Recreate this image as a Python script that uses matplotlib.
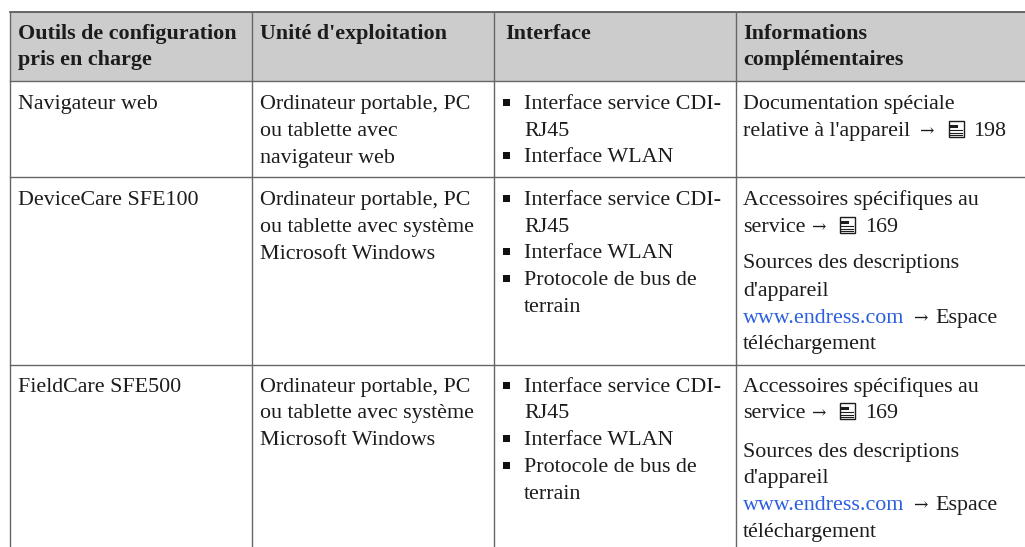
import matplotlib
matplotlib.use('Agg')
import matplotlib.pyplot as plt
from matplotlib.patches import Rectangle

plt.rcParams['font.family'] = ['Liberation Serif', 'DejaVu Serif']
FS = 15.8
FS_B = 15.8
INK = '#1c1c1c'

# column lines and row lines, in image pixels
col_x = [9.5, 251.5, 493.5, 735.5]
header_top = 11.5
row_y = [81, 177, 365]
text_x = [18, 260, 524, 743]
bullet_x = 506.5

headers = [['Outils de configuration', 'pris en charge'],
           ["Unité d'exploitation"],
           ['Interface'],
           ['Informations', 'complémentaires']]
header_x = [18, 260, 505, 743]
header_base = [39, 65]

col1 = [('Navigateur web', 109), ('DeviceCare SFE100', 205), ('FieldCare SFE500', 392)]
col2 = [('Ordinateur portable, PC', 109), ('ou tablette avec', 136), ('navigateur web', 163),
        ('Ordinateur portable, PC', 205), ('ou tablette avec système', 232), ('Microsoft Windows', 259),
        ('Ordinateur portable, PC', 392), ('ou tablette avec système', 418), ('Microsoft Windows', 445)]
# (text, baseline, has bullet)
col3 = [('Interface service CDI-', 109, True), ('RJ45', 136, False), ('Interface WLAN', 162, True),
        ('Interface service CDI-', 205, True), ('RJ45', 232, False), ('Interface WLAN', 258, True),
        ('Protocole de bus de', 285, True), ('terrain', 312, False),
        ('Interface service CDI-', 392, True), ('RJ45', 418, False), ('Interface WLAN', 445, True),
        ('Protocole de bus de', 472, True), ('terrain', 499, False)]
col4 = [('Documentation spéciale', 109), ("relative à l'appareil", 136),
        ('Accessoires spécifiques au', 205), ('service', 232),
        ('Sources des descriptions', 268), ("d'appareil", 296),
        ('téléchargement', 349),
        ('Accessoires spécifiques au', 392), ('service', 418),
        ('Sources des descriptions', 457), ("d'appareil", 483),
        ('téléchargement', 537)]
# (page number, baseline, arrow x, icon x, number x)
page_refs = [('198', 136, 919, 948, 973), ('169', 232, 811, 839, 865), ('169', 418, 811, 839, 865)]
links = [323, 510]

fig = plt.figure(figsize=(10.25, 5.47), dpi=100)
ax = fig.add_axes([0, 0, 1, 1])
ax.set_xlim(0, 1025)
ax.set_ylim(547, 0)
ax.axis('off')

ax.add_patch(Rectangle((col_x[0], header_top), 1025 - col_x[0], row_y[0] - header_top, fc='#cccccc', ec='none'))

line_c = '#666666'
ax.plot([col_x[0], 1025], [header_top, header_top], color='#505050', lw=1.2)
for y in row_y:
    ax.plot([col_x[0], 1025], [y, y], color=line_c, lw=1.0)
for x in col_x:
    ax.plot([x, x], [header_top, 547], color=line_c, lw=1.0)


def put(x, y, s, **kw):
    kw.setdefault('color', INK)
    kw.setdefault('fontsize', FS)
    ax.text(x, y, s, va='baseline', **kw)


for x, lines in zip(header_x, headers):
    for line, y in zip(lines, header_base):
        put(x, y, line, fontweight='bold', fontsize=FS_B)

for t, y in col1:
    put(text_x[0], y, t)
for t, y in col2:
    put(text_x[1], y, t)
for t, y, bullet in col3:
    put(text_x[2], y, t)
    if bullet:
        ax.add_patch(Rectangle((bullet_x - 3.5, y - 10.5), 7, 7, fc='#111111', ec='none'))
for t, y in col4:
    put(text_x[3], y, t)
for y in links:
    put(text_x[3], y, 'www.endress.com', color='#2b5fe0')
    put(913, y, '→', family='DejaVu Serif', fontsize=12.4)
    put(935, y, 'Espace')

for num, y, ax_x, ix, nx in page_refs:
    put(ax_x, y, '→', family='DejaVu Serif', fontsize=12.4)
    ax.add_patch(Rectangle((ix + 0.5, y - 15), 15, 16, fc='white', ec=INK, lw=1))
    for dy in (-6, -3.5, -1):
        ax.plot([ix + 2, ix + 14], [y + dy, y + dy], color=INK, lw=0.8)
    ax.plot([ix + 3, ix + 8], [y - 10, y - 10], color=INK, lw=2.2)
    put(nx, y, num)

fig.savefig('out.png', dpi=100)
